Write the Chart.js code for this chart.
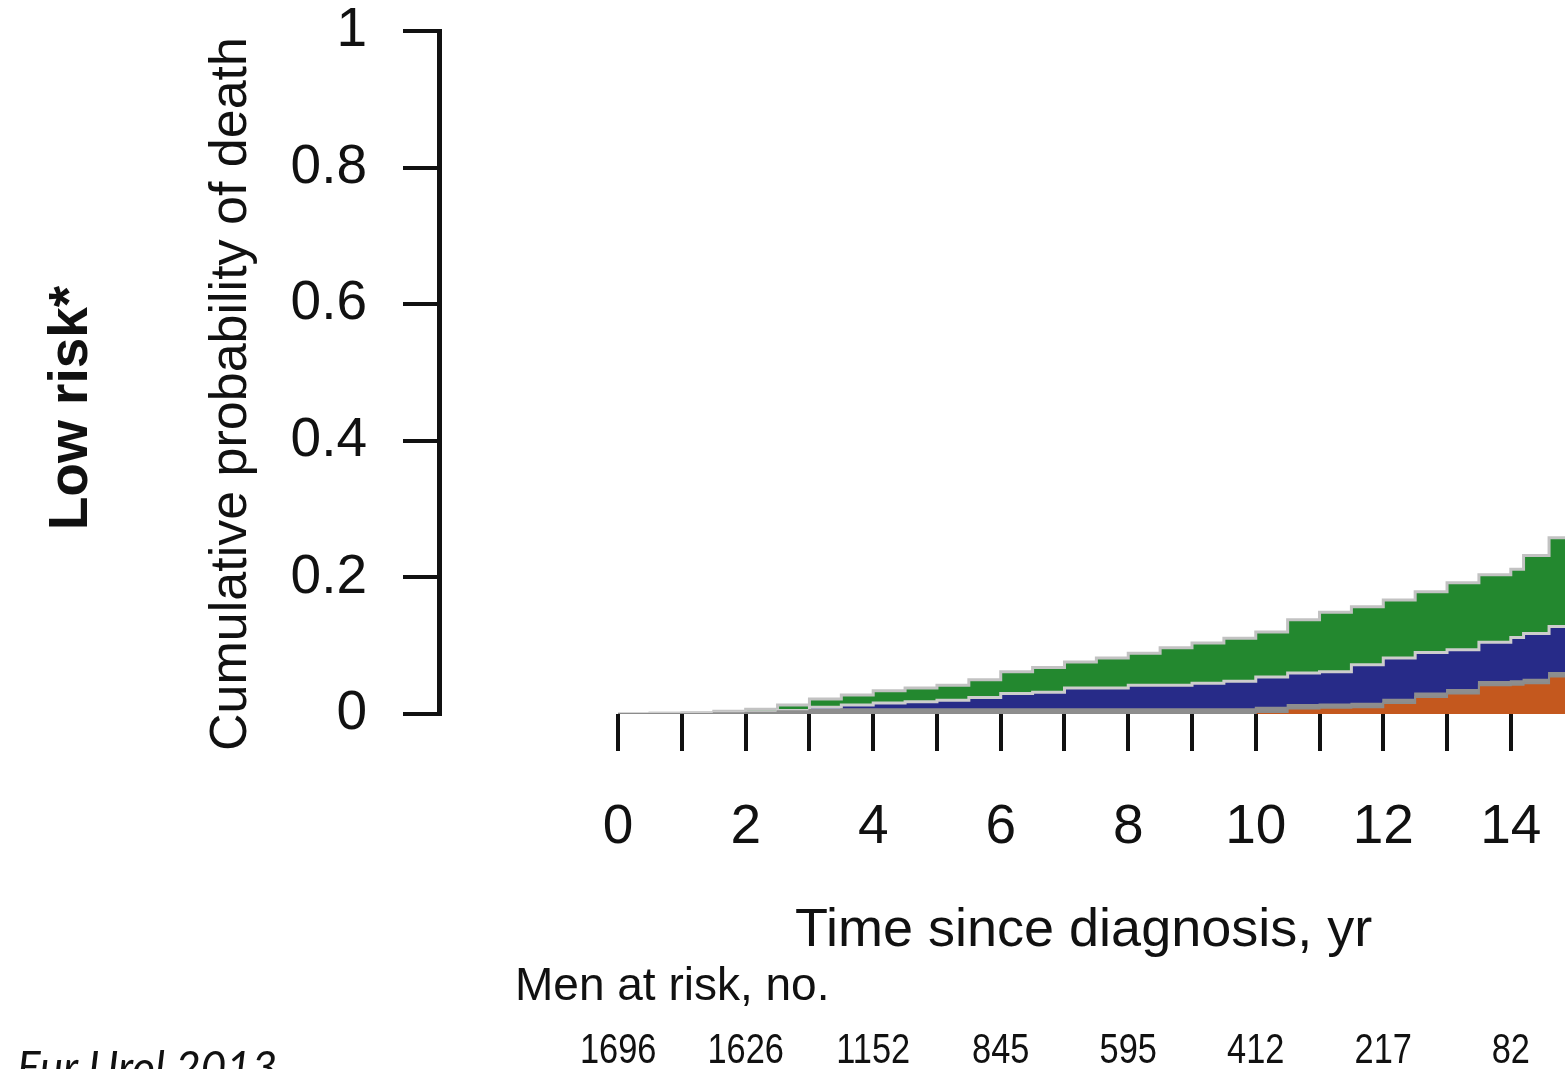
<!DOCTYPE html>
<html lang="en">
<head>
  <meta charset="UTF-8">
  <title>Low risk - cumulative probability of death</title>
  <script src="https://cdn.jsdelivr.net/npm/chart.js"></script>
  <style>
    html, body { margin: 0; padding: 0; background: #fff; }
    #wrap { width: 1565px; height: 1069px; }
  </style>
</head>
<body>
  <div id="wrap"><canvas id="riskChart" width="1565" height="1069"></canvas></div>

  <script>
    // time since diagnosis, yr
    const times = [0, 0.5, 1, 1.5, 2, 2.5, 3, 3.5, 4, 4.5, 5, 5.5, 6, 6.5, 7, 7.5, 8, 8.5, 9, 9.5,
                   10, 10.5, 11, 11.5, 12, 12.5, 13, 13.5, 14, 14.2, 14.6, 14.85];

    // cumulative probability at the top edge of each band (stacked)
    const orangeTop = [0, 0, 0, 0, 0, 0, 0, 0, 0, 0, 0, 0, 0, 0, 0, 0, 0, 0, 0, 0,
                       0.003, 0.008, 0.009, 0.010, 0.016, 0.025, 0.030, 0.042, 0.043, 0.045, 0.055, 0.055];
    const grayTop   = [0, 0, 0, 0.001, 0.002, 0.004, 0.006, 0.007, 0.007, 0.007, 0.007, 0.007, 0.007, 0.007, 0.007, 0.007, 0.007, 0.007, 0.007, 0.007,
                       0.009, 0.013, 0.014, 0.015, 0.021, 0.030, 0.035, 0.047, 0.048, 0.050, 0.060, 0.060];
    const blueTop   = [0, 0.001, 0.001, 0.002, 0.003, 0.005, 0.010, 0.013, 0.016, 0.018, 0.020, 0.024, 0.030, 0.032, 0.038, 0.038, 0.042, 0.042, 0.045, 0.048,
                       0.054, 0.060, 0.062, 0.072, 0.082, 0.090, 0.094, 0.105, 0.112, 0.118, 0.128, 0.128];
    const greenTop  = [0, 0.001, 0.002, 0.004, 0.007, 0.013, 0.022, 0.028, 0.034, 0.038, 0.042, 0.050, 0.062, 0.068, 0.076, 0.082, 0.089, 0.097, 0.104, 0.111,
                       0.120, 0.138, 0.149, 0.157, 0.167, 0.179, 0.192, 0.204, 0.212, 0.232, 0.258, 0.258];

    const yTicks = [0, 0.2, 0.4, 0.6, 0.8, 1];
    const xTicks = [0, 1, 2, 3, 4, 5, 6, 7, 8, 9, 10, 11, 12, 13, 14];
    const xLabelEvery = 2;
    const riskYears = [0, 2, 4, 6, 8, 10, 12, 14];
    const menAtRisk = [1696, 1626, 1152, 845, 595, 412, 217, 82];

    const FONT = '"Liberation Sans", Arial, Helvetica, sans-serif';
    Chart.defaults.font.family = FONT;
    Chart.defaults.color = '#111';

    function pts(vals) {
      return times.map((t, i) => ({ x: t, y: vals[i] }));
    }

    function band(label, vals, fill, color, border, bw) {
      return {
        label: label,
        data: pts(vals),
        stepped: true,
        fill: fill,
        backgroundColor: color,
        borderColor: border,
        borderWidth: bw,
        pointRadius: 0,
        tension: 0
      };
    }

    // extra texts: panel label, axis titles, numbers at risk, source
    const annotate = {
      id: 'annotate',
      afterDraw(chart) {
        const ctx = chart.ctx;
        const xs = chart.scales.x;
        ctx.save();
        ctx.fillStyle = '#111';
        ctx.textAlign = 'center';
        ctx.textBaseline = 'middle';

        ctx.save();
        ctx.translate(72, 408);
        ctx.rotate(-Math.PI / 2);
        ctx.font = 'bold 55px ' + FONT;
        ctx.fillText('Low risk*', 0, 0);
        ctx.restore();

        ctx.save();
        ctx.translate(232, 394);
        ctx.rotate(-Math.PI / 2);
        ctx.font = '52px ' + FONT;
        ctx.fillText('Cumulative probability of death', 0, 0);
        ctx.restore();

        ctx.textBaseline = 'alphabetic';
        ctx.font = '54px ' + FONT;
        ctx.fillText('Time since diagnosis, yr', xs.getPixelForValue(7.3), 946);

        ctx.textAlign = 'left';
        ctx.font = '46px ' + FONT;
        ctx.fillText('Men at risk, no.', 515, 1000);

        ctx.textAlign = 'center';
        ctx.font = '43px ' + FONT;
        riskYears.forEach((yr, i) => {
          ctx.save();
          ctx.translate(xs.getPixelForValue(yr), 1063);
          ctx.scale(0.8, 1);
          ctx.fillText(String(menAtRisk[i]), 0, 0);
          ctx.restore();
        });

        ctx.textAlign = 'left';
        ctx.font = 'italic 44px Lato, "Open Sans", sans-serif';
        ctx.fillText('Eur Urol 2013', 17, 1083);
        ctx.restore();
      }
    };

    new Chart(document.getElementById('riskChart'), {
      type: 'line',
      data: {
        datasets: [
          band('Orange', orangeTop, 'origin', '#c4581e', '#8c8c8c', 2),
          band('Gray', grayTop, '-1', '#8e8e8e', '#8e8e8e', 2),
          band('Blue', blueTop, '-1', '#272b88', '#cdcdcd', 3),
          band('Green', greenTop, '-1', '#23882f', '#c2c2c2', 3)
        ]
      },
      options: {
        responsive: false,
        animation: false,
        events: [],
        layout: { padding: { top: 31, left: 0, right: 0, bottom: 0 } },
        plugins: {
          legend: { display: false },
          tooltip: { enabled: false }
        },
        scales: {
          x: {
            type: 'linear',
            min: -2.81,
            max: 14.85,
            afterFit: (s) => { s.height = 355; s.paddingLeft = 0; s.paddingRight = 0; },
            afterBuildTicks: (s) => { s.ticks = xTicks.map(v => ({ value: v })); },
            border: { display: false },
            grid: {
              drawOnChartArea: false,
              drawTicks: true,
              tickLength: 37,
              lineWidth: 4,
              color: '#111'
            },
            ticks: {
              autoSkip: false,
              maxRotation: 0,
              padding: 49,
              font: { size: 55, lineHeight: 1 },
              callback: (v) => (v % xLabelEvery === 0 ? String(v) : '')
            }
          },
          y: {
            min: yTicks[0],
            max: yTicks[yTicks.length - 1],
            afterFit: (s) => { s.width = 439; s.paddingTop = 0; s.paddingBottom = 0; },
            afterBuildTicks: (s) => { s.ticks = yTicks.map(v => ({ value: v })); },
            border: { display: true, color: '#111', width: 5 },
            grid: {
              drawOnChartArea: false,
              drawTicks: true,
              tickLength: 36,
              lineWidth: 4,
              color: '#111'
            },
            ticks: {
              padding: 36,
              font: { size: 55, lineHeight: 1 },
              callback: (v) => String(v)
            }
          }
        }
      },
      plugins: [annotate]
    });
  </script>
</body>
</html>
